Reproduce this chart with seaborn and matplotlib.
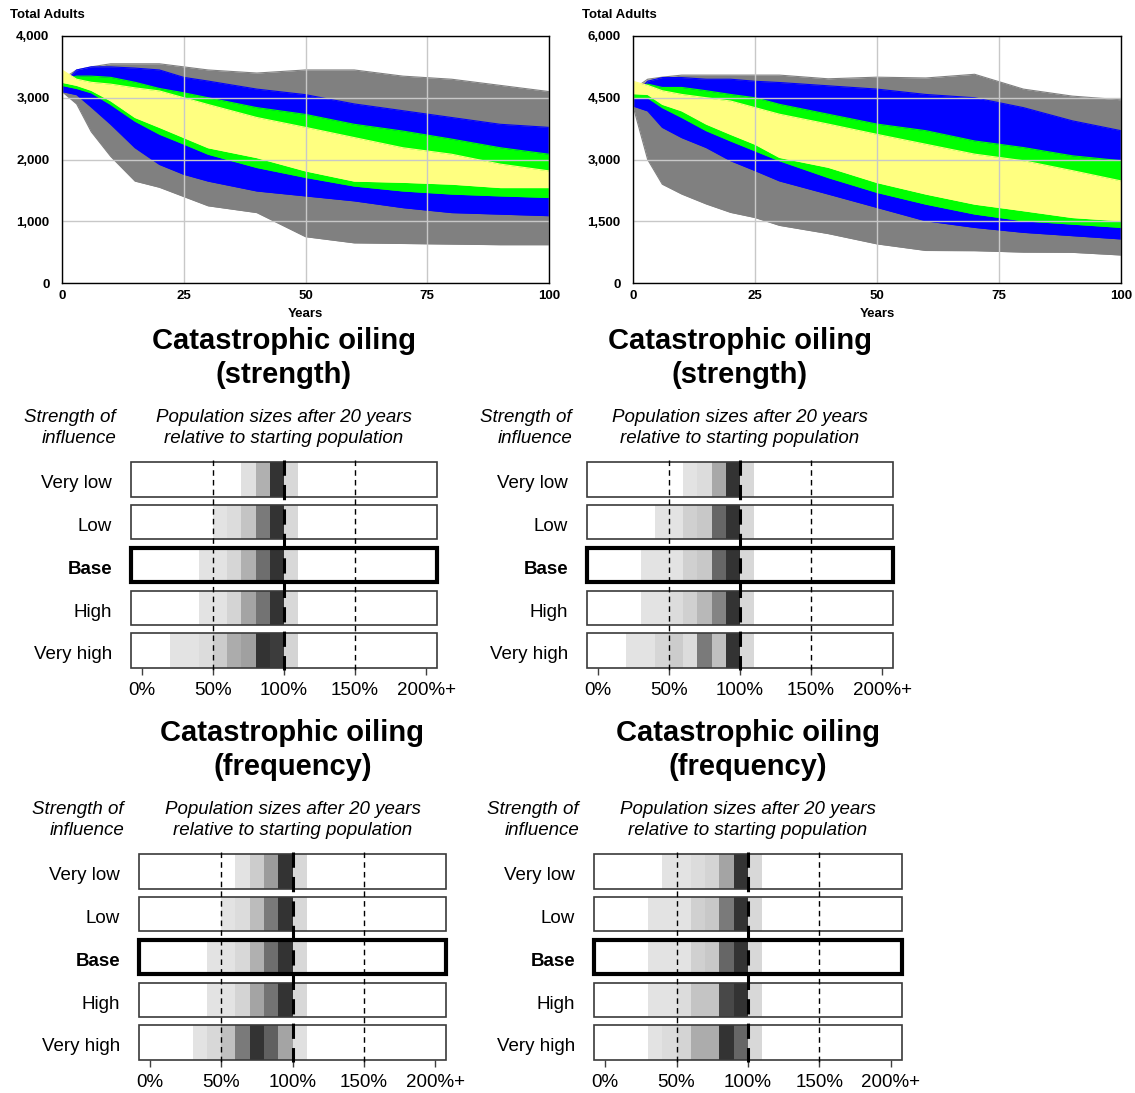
import numpy as np
import pandas as pd
import matplotlib
matplotlib.use("Agg")
import matplotlib.pyplot as plt
from matplotlib.patches import Rectangle
import seaborn as sns

W, H = 1135, 1093

# --- top: Total Adults, percentile bands over 100 years ---
years = [0, 3, 6, 10, 15, 20, 25, 30, 40, 50, 60, 70, 80, 90, 100]

# left chart (0 - 4000)
l_gray_hi = [3300, 3450, 3500, 3550, 3550, 3550, 3500, 3450, 3400, 3450, 3450, 3350, 3300, 3200, 3100]
l_gray_lo = [3100, 2900, 2450, 2050, 1650, 1550, 1400, 1250, 1140, 750, 650, 640, 630, 620, 620]
l_blue_hi = [3200, 3450, 3500, 3500, 3480, 3450, 3330, 3270, 3140, 3050, 2900, 2790, 2680, 2570, 2520]
l_blue_lo = [3100, 3050, 2850, 2570, 2190, 1920, 1760, 1650, 1490, 1410, 1330, 1220, 1140, 1115, 1090]
l_green_hi = [3300, 3350, 3350, 3330, 3250, 3150, 3080, 3000, 2840, 2730, 2570, 2460, 2330, 2190, 2085]
l_green_lo = [3200, 3150, 3080, 2890, 2620, 2410, 2250, 2085, 1870, 1710, 1570, 1490, 1440, 1410, 1385]
l_yellow_hi = [3450, 3300, 3250, 3220, 3160, 3110, 3000, 2890, 2680, 2520, 2355, 2190, 2085, 1925, 1815]
l_yellow_lo = [3250, 3200, 3120, 2950, 2680, 2520, 2355, 2190, 2030, 1815, 1650, 1630, 1600, 1545, 1545]

# right chart (0 - 6000)
r_gray_hi = [4700, 4950, 5000, 5050, 5050, 5050, 5050, 5050, 4960, 5000, 4980, 5070, 4710, 4540, 4450]
r_gray_lo = [4300, 3000, 2400, 2160, 1920, 1715, 1590, 1400, 1200, 950, 790, 785, 750, 745, 680]
r_blue_hi = [4500, 4900, 4990, 4990, 4950, 4950, 4900, 4870, 4790, 4710, 4580, 4500, 4260, 3940, 3700]
r_blue_lo = [4300, 4180, 3780, 3530, 3290, 2970, 2730, 2480, 2160, 1835, 1510, 1350, 1230, 1150, 1070]
r_green_hi = [4700, 4830, 4750, 4750, 4670, 4580, 4500, 4340, 4100, 3860, 3700, 3450, 3290, 3090, 2970]
r_green_lo = [4500, 4500, 4260, 4020, 3700, 3450, 3210, 2970, 2560, 2200, 1915, 1675, 1510, 1430, 1350]
r_yellow_hi = [4900, 4800, 4670, 4580, 4500, 4420, 4260, 4100, 3860, 3610, 3370, 3130, 2970, 2730, 2480]
r_yellow_lo = [4600, 4580, 4340, 4180, 3860, 3610, 3370, 3050, 2810, 2440, 2160, 1915, 1755, 1590, 1510]

l_yticks = [0, 1000, 2000, 3000, 4000]
l_ylabels = ["0", "1,000", "2,000", "3,000", "4,000"]
r_yticks = [0, 1500, 3000, 4500, 6000]
r_ylabels = ["0", "1,500", "3,000", "4,500", "6,000"]
xticks = [0, 25, 50, 75, 100]

band_colors = {"gray": "#808080", "blue": "#0000ff", "green": "#00ff00", "yellow": "#ffff80"}

# --- bottom: population after 20 years, relative to start (10% bins) ---
row_names = ["Very low", "Low", "Base", "High", "Very high"]
bin_starts = [20, 30, 40, 50, 60, 70, 80, 90, 100]
pct_ticks = [0, 50, 100, 150, 200]
pct_labels = ["0%", "50%", "100%", "150%", "200%+"]

# gray level per bin (255 = white)
strength_left = [
    [255, 255, 255, 255, 255, 0xe0, 0xb0, 0x33, 0xd8],
    [255, 255, 255, 0xe3, 0xdc, 0xc4, 0x7a, 0x33, 0xd8],
    [255, 255, 0xe3, 0xe3, 0xd6, 0xb0, 0x6e, 0x33, 0xd8],
    [255, 255, 0xe3, 0xe3, 0xd4, 0xa4, 0x73, 0x33, 0xd8],
    [0xe3, 0xe3, 0xdc, 0xcc, 0xac, 0xa0, 0x33, 0x3c, 0xd4],
]
strength_right = [
    [255, 255, 255, 255, 0xe3, 0xdc, 0xa8, 0x33, 0xd8],
    [255, 255, 0xe3, 0xe3, 0xd0, 0xc8, 0x66, 0x33, 0xd8],
    [255, 0xe3, 0xe3, 0xe3, 0xd0, 0xc8, 0x66, 0x33, 0xd8],
    [255, 0xe3, 0xe3, 0xdc, 0xd0, 0xb8, 0x84, 0x33, 0xd8],
    [0xe3, 0xe3, 0xd6, 0xcc, 0xdc, 0x7a, 0xc0, 0x33, 0xd8],
]
frequency_left = [
    [255, 255, 255, 255, 0xe3, 0xcc, 0x9c, 0x33, 0xd8],
    [255, 255, 255, 0xe3, 0xdc, 0xbc, 0x7a, 0x33, 0xd8],
    [255, 255, 0xe3, 0xe3, 0xd8, 0xb0, 0x6e, 0x33, 0xd8],
    [255, 255, 0xe3, 0xe3, 0xd4, 0xa4, 0x73, 0x33, 0xd8],
    [255, 0xe3, 0xd8, 0xc0, 0x7a, 0x33, 0x60, 0xa4, 0xe0],
]
frequency_right = [
    [255, 255, 0xe3, 0xe3, 0xdc, 0xd4, 0xa4, 0x33, 0xd8],
    [255, 0xe3, 0xe3, 0xe3, 0xd0, 0xc8, 0x7a, 0x33, 0xd8],
    [255, 0xe3, 0xe3, 0xe3, 0xd0, 0xc8, 0x66, 0x33, 0xd8],
    [255, 0xe3, 0xe3, 0xdc, 0xc4, 0xc4, 0x48, 0x33, 0xd8],
    [255, 0xe3, 0xdc, 0xd4, 0xac, 0xac, 0x33, 0x66, 0xd8],
]

sns.set_theme(style="white")
plt.rcParams["font.family"] = ["Liberation Sans", "DejaVu Sans"]
plt.rcParams["text.color"] = "black"
plt.rcParams["xtick.color"] = "black"
plt.rcParams["ytick.color"] = "black"
plt.rcParams["axes.labelcolor"] = "black"

fig = plt.figure(figsize=(W / 100, H / 100), dpi=100)


def px_axes(x0, y0, x1, y1):
    return fig.add_axes([x0 / W, 1 - y1 / H, (x1 - x0) / W, (y1 - y0) / H])


def ftext(x, y, s, **kw):
    fig.text(x / W, 1 - y / H, s, **kw)


def draw_fan(box, bands, yticks, ylabels, label_x, years_x):
    ax = px_axes(*box)
    for name, (hi, lo) in bands.items():
        df = pd.DataFrame({"year": years, "hi": hi, "lo": lo})
        ax.fill_between(df["year"], df["lo"], df["hi"], color=band_colors[name], lw=0, zorder=2)
        for col in ["hi", "lo"]:
            sns.lineplot(data=df, x="year", y=col, ax=ax, color=band_colors[name], lw=0.8, zorder=2)
    ax.set_xlim(0, 100)
    ax.set_ylim(yticks[0], yticks[-1])
    ax.set_xticks(xticks)
    ax.set_xticklabels([str(t) for t in xticks])
    ax.set_yticks(yticks)
    ax.set_yticklabels(ylabels)
    ax.grid(True, color="#c8c8c8", lw=1)
    ax.set_axisbelow(False)
    for g in ax.get_xgridlines() + ax.get_ygridlines():
        g.set_zorder(3)
    ax.set_xlabel("")
    ax.set_ylabel("")
    for sp in ax.spines.values():
        sp.set_color("black")
        sp.set_linewidth(1)
        sp.set_zorder(4)
    ax.tick_params(axis="both", length=0, labelsize=9.5, colors="black")
    ax.tick_params(axis="y", pad=9)
    ax.tick_params(axis="x", pad=5)
    for lab in ax.get_xticklabels() + ax.get_yticklabels():
        lab.set_fontweight("bold")
    ftext(label_x, 15, "Total Adults", fontsize=9.5, fontweight="bold", ha="left", va="center")
    ftext(years_x, 314, "Years", fontsize=9.5, fontweight="bold", ha="center", va="center")


draw_fan((62, 36, 549, 283),
         {"gray": (l_gray_hi, l_gray_lo), "blue": (l_blue_hi, l_blue_lo),
          "green": (l_green_hi, l_green_lo), "yellow": (l_yellow_hi, l_yellow_lo)},
         l_yticks, l_ylabels, 10, 305)
draw_fan((633, 36, 1121, 283),
         {"gray": (r_gray_hi, r_gray_lo), "blue": (r_blue_hi, r_blue_lo),
          "green": (r_green_hi, r_green_lo), "yellow": (r_yellow_hi, r_yellow_lo)},
         r_yticks, r_ylabels, 582, 877)


def draw_panel(title, x0, x1, top, data):
    pitch = 205.4 / 4.8
    bottom = top + 205.4
    ax = px_axes(x0, top, x1, bottom)
    xmin, xmax = -7.7, 207.7
    for i, row in enumerate(data):
        grays = [str(v / 255) for v in row]
        ax.barh([i] * len(bin_starts), [10] * len(bin_starts), left=bin_starts, height=0.8,
                color=grays, lw=0, align="center", zorder=1)
        base = row_names[i] == "Base"
        ax.add_patch(Rectangle((xmin, i - 0.4), xmax - xmin, 0.8, fill=False,
                               edgecolor="black" if base else "#3a3a3a",
                               lw=3 if base else 1.2, zorder=3, clip_on=False))
        ftext(x0 - 19, top + (i + 0.5) * pitch, row_names[i], fontsize=13.5,
              fontweight="bold" if base else "normal", ha="right", va="center")
    for v, lw, dash in [(50, 1, (4, 3)), (150, 1, (4, 3)), (100, 2.2, (5, 3))]:
        ax.plot([v, v], [-0.45, 4.45], color="black", lw=lw, dashes=dash, zorder=4, clip_on=False)
    ax.set_xlim(xmin, xmax)
    ax.set_ylim(4.4, -0.4)
    ax.set_yticks([])
    ax.set_xticks(pct_ticks)
    ax.set_xticklabels(pct_labels)
    ax.tick_params(axis="x", length=5, width=1, color="#404040", pad=5.5, labelsize=13.5,
                   bottom=True, labelcolor="black")
    for sp in ax.spines.values():
        sp.set_visible(False)
    ax.patch.set_alpha(0)
    cx = (x0 + x1) / 2
    ftext(cx, top - 104.5, title, fontsize=21, fontweight="bold", ha="center", va="center",
          linespacing=1.27)
    ftext(cx, top - 34.5, "Population sizes after 20 years\nrelative to starting population",
          fontsize=13.5, style="italic", ha="center", va="center", linespacing=1.33)
    ftext(x0 - 15, top - 34.5, "Strength of\ninfluence", fontsize=13.5, style="italic",
          ha="right", va="center", multialignment="right", linespacing=1.33)


draw_panel("Catastrophic oiling\n(strength)", 131, 437, 462.3, strength_left)
draw_panel("Catastrophic oiling\n(strength)", 587, 893, 462.3, strength_right)
draw_panel("Catastrophic oiling\n(frequency)", 139, 446, 854.3, frequency_left)
draw_panel("Catastrophic oiling\n(frequency)", 594, 902, 854.3, frequency_right)

fig.savefig("out.png", dpi=100, facecolor="white")
